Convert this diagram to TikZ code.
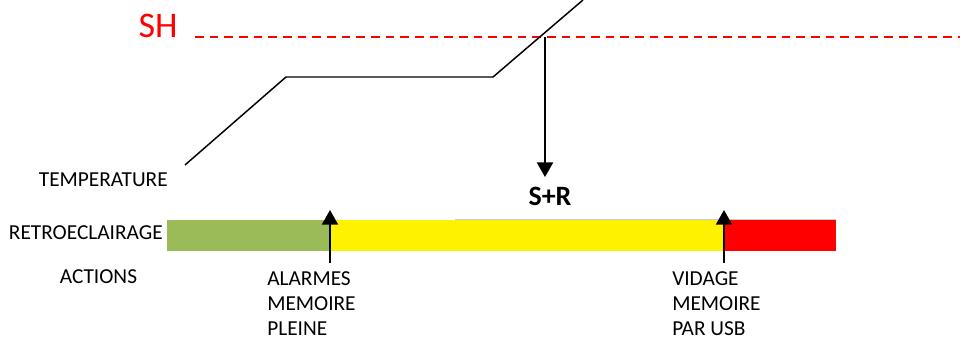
\documentclass[tikz,border=0pt]{standalone}
\usepackage{fontspec}
\setmainfont{Carlito}
\usetikzlibrary{positioning,arrows.meta}
\definecolor{vertbarre}{HTML}{9BBB59}

\begin{document}
\begin{tikzpicture}[x=0.75pt, y=-0.75pt,
		lbl/.style={inner sep=0pt, font=\fontsize{16}{18.75}\selectfont},
		fleche/.style={line width=1.5pt, -{Triangle[width=12pt,length=11pt]}}]
	\useasboundingbox (0,0) rectangle (960,341);
	
	% seuil SH
	\node[inner sep=0pt, text=red, font=\fontsize{27}{30}\selectfont] (sh) at (158,26) {SH};
	\coordinate (sh0) at (195,37);
	\coordinate (sh1) at (960,37);
	\draw[red, line width=1.4pt, dash pattern=on 6.5pt off 4.5pt] (sh0) -- (sh1);
	
	% courbe de temperature
	\coordinate (t0) at (185,165);
	\coordinate (t1) at (286,77);
	\coordinate (t2) at (493,77);
	\coordinate (t3) at (583,0);
	\draw[line width=1.1pt] (t0) -- (t1) -- (t2) -- (t3);
	\node[lbl, anchor=east] (temp) at (168,180) {TEMPERATURE};
	
	% barre de retroeclairage
	\fill[vertbarre] (167,220) rectangle (330,251);
	\fill[yellow] (330,220) rectangle (724,251);
	\fill[red] (724,220) rectangle (836,251);
	\draw[black!20, line width=0.5pt] (455,219.5) -- (836,219.5);
	\node[lbl, anchor=east] (retro) at (163,233) {RETROECLAIRAGE};
	\node[lbl] (act) at (98.5,277) {ACTIONS};
	
	% S+R
	\node[inner sep=0pt, font=\bfseries\fontsize{21}{24}\selectfont] (sr) at (550,196) {S+R};
	\coordinate (seuil) at (545,37);
	\draw[fleche] (seuil) -- ([yshift=7pt]seuil |- sr.north);
	
	% actions
	\node[lbl, align=left, anchor=north west] (alarme) at (267,271) {ALARMES\\MEMOIRE\\PLEINE};
	\node[lbl, align=left, anchor=north west] (vidage) at (672,271) {VIDAGE\\MEMOIRE\\PAR USB};
	\coordinate (pa) at (330,210);
	\coordinate (pv) at (724,210);
	\draw[fleche] ([yshift=6pt]alarme.north -| pa) -- (pa);
	\draw[fleche] ([yshift=6pt]vidage.north -| pv) -- (pv);
\end{tikzpicture}
\end{document}
